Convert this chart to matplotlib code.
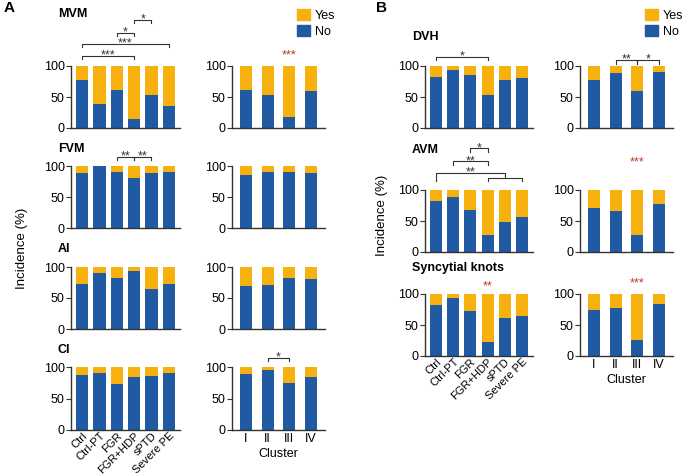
import matplotlib.pyplot as plt
from matplotlib.patches import Patch

plt.rcParams['font.family'] = ['Liberation Sans', 'DejaVu Sans']

groups = ['Ctrl', 'Ctrl-PT', 'FGR', 'FGR+HDP', 'sPTD', 'Severe PE']
clusters = ['I', 'II', 'III', 'IV']

# % "No" per group / cluster ("Yes" = 100 - No)
mvm_group = [77, 38, 61, 15, 53, 35]
mvm_cluster = [61, 53, 18, 60]
fvm_group = [88, 100, 90, 81, 89, 91]
fvm_cluster = [86, 90, 91, 88]
ai_group = [72, 91, 82, 94, 65, 73]
ai_cluster = [70, 71, 83, 80]
ci_group = [88, 91, 73, 84, 86, 90]
ci_cluster = [89, 96, 74, 84]
dvh_group = [82, 94, 85, 53, 77, 81]
dvh_cluster = [78, 88, 60, 90]
avm_group = [82, 88, 68, 28, 49, 57]
avm_cluster = [71, 66, 28, 77]
sk_group = [82, 93, 72, 22, 62, 64]
sk_cluster = [74, 78, 26, 84]

BLUE = '#1f5aa3'
ORANGE = '#f6b10e'
RED = '#c0392b'
LINE = '#333333'

W, H = 685, 476
fig = plt.figure(figsize=(W / 100, H / 100), dpi=100)


def make_ax(x0, x1, ytop, ybot):
    return fig.add_axes([x0 / W, 1 - ybot / H, (x1 - x0) / W, (ybot - ytop) / H])


def draw(ax, no, labels, show_labels=False, xlabel=None):
    x = list(range(len(no)))
    yes = [100 - v for v in no]
    width = 0.7 if len(no) == 6 else 0.56
    ax.bar(x, no, width=width, color=BLUE)
    ax.bar(x, yes, bottom=no, width=width, color=ORANGE)
    ax.set_ylim(0, 100)
    ax.set_xlim(-0.65, len(no) - 0.35)
    ax.set_yticks([0, 50, 100])
    ax.tick_params(axis='y', labelsize=9, length=3.5, width=0.8, pad=1, colors=LINE, labelcolor='black')
    for s in ['top', 'right']:
        ax.spines[s].set_visible(False)
    for s in ['left', 'bottom']:
        ax.spines[s].set_linewidth(1.0)
        ax.spines[s].set_color(LINE)
    ax.set_xticks(x)
    if show_labels:
        if len(no) == 6:
            ax.set_xticklabels(labels, rotation=45, ha='right', rotation_mode='anchor', fontsize=8)
            ax.tick_params(axis='x', length=0, pad=0.5)
        else:
            ax.set_xticklabels(labels, fontsize=9)
            ax.tick_params(axis='x', length=0, pad=2)
    else:
        ax.set_xticklabels([])
        ax.tick_params(axis='x', length=0)
    if xlabel:
        ax.set_xlabel(xlabel, fontsize=9, labelpad=2)


def bracket(ax, x1, x2, y, text, h1=5, h2=5, tx=None):
    ax.plot([x1, x1, x2, x2], [y - h1, y, y, y - h2], color=LINE, lw=0.8, clip_on=False)
    if tx is None:
        tx = (x1 + x2) / 2
    if text:
        ax.annotate(text, xy=(tx, y), xytext=(0, -1.8), textcoords='offset points',
                    ha='center', va='baseline', fontsize=9, color=LINE, annotation_clip=False)


def red_star(ax, x, y, text):
    ax.annotate(text, xy=(x, y), xytext=(0, -1.8), textcoords='offset points',
                ha='center', va='baseline', fontsize=9, color=RED, annotation_clip=False)


def title(x, y, text):
    fig.text(x / W, 1 - y / H, text, fontsize=9, fontweight='bold', va='center', ha='left')


# Panel A
AL = (71, 180)
AR = (232, 325)
a_rows = [(66, 128), (166, 228), (267, 329), (367, 430)]
a_data = [(mvm_group, mvm_cluster), (fvm_group, fvm_cluster),
          (ai_group, ai_cluster), (ci_group, ci_cluster)]
a_axes = []
for i, ((yt, yb), (g, c)) in enumerate(zip(a_rows, a_data)):
    last = i == len(a_rows) - 1
    axl = make_ax(AL[0], AL[1], yt, yb)
    draw(axl, g, groups, show_labels=last)
    axr = make_ax(AR[0], AR[1], yt, yb)
    draw(axr, c, clusters, show_labels=last, xlabel='Cluster' if last else None)
    a_axes.append((axl, axr))

# Panel B
BL = (425, 533)
BR = (580, 673)
b_rows = [(66, 128), (190, 252), (294, 356)]
b_data = [(dvh_group, dvh_cluster), (avm_group, avm_cluster), (sk_group, sk_cluster)]
b_axes = []
for i, ((yt, yb), (g, c)) in enumerate(zip(b_rows, b_data)):
    last = i == len(b_rows) - 1
    axl = make_ax(BL[0], BL[1], yt, yb)
    draw(axl, g, groups, show_labels=last)
    axr = make_ax(BR[0], BR[1], yt, yb)
    draw(axr, c, clusters, show_labels=last, xlabel='Cluster' if last else None)
    b_axes.append((axl, axr))

# significance marks, panel A
ax = a_axes[0][0]
bracket(ax, 0, 3, 116, '***')
bracket(ax, 0, 5, 136, '***')
bracket(ax, 2, 3, 154, '*')
bracket(ax, 3, 4, 174, '*')
red_star(a_axes[0][1], 2, 116, '***')
ax = a_axes[1][0]
bracket(ax, 2, 3, 115, '**')
bracket(ax, 3, 4, 115, '**')
bracket(a_axes[3][1], 1, 2, 115, '*')

# significance marks, panel B
bracket(b_axes[0][0], 0, 3, 114, '*')
bracket(b_axes[0][1], 1, 2, 109, '**')
bracket(b_axes[0][1], 2, 3, 109, '*')
ax = b_axes[1][0]
bracket(ax, 3, 5, 120, '', h1=6, h2=6)
bracket(ax, 0, 4, 127, '**', h1=13, h2=7)
bracket(ax, 1, 3, 146, '**')
bracket(ax, 2, 3, 167, '*')
red_star(b_axes[1][1], 2, 144, '***')
red_star(b_axes[2][0], 3, 112, '**')
red_star(b_axes[2][1], 2, 116, '***')

# titles
title(58, 14, 'MVM')
title(58, 149, 'FVM')
title(58, 249, 'AI')
title(58, 350, 'CI')
title(412, 37, 'DVH')
title(412, 150, 'AVM')
title(412, 268, 'Syncytial knots')

fig.text(4 / W, 1 - 8 / H, 'A', fontsize=11, fontweight='bold', va='center')
fig.text(376 / W, 1 - 8 / H, 'B', fontsize=11, fontweight='bold', va='center')

fig.text(22 / W, 1 - 248 / H, 'Incidence (%)', rotation=90, fontsize=9.5, va='center', ha='center')
fig.text(382 / W, 1 - 215 / H, 'Incidence (%)', rotation=90, fontsize=9.5, va='center', ha='center')

handles = [Patch(color=ORANGE, label='Yes'), Patch(color=BLUE, label='No')]
for lx in (297, 645):
    fig.legend(handles=handles, loc='upper left', bbox_to_anchor=(lx / W, 1 - 9 / H),
               frameon=False, fontsize=9, handlelength=1.0, handleheight=1.0,
               handletextpad=0.4, labelspacing=0.25, borderaxespad=0, borderpad=0)

fig.savefig('out.png', dpi=100)
